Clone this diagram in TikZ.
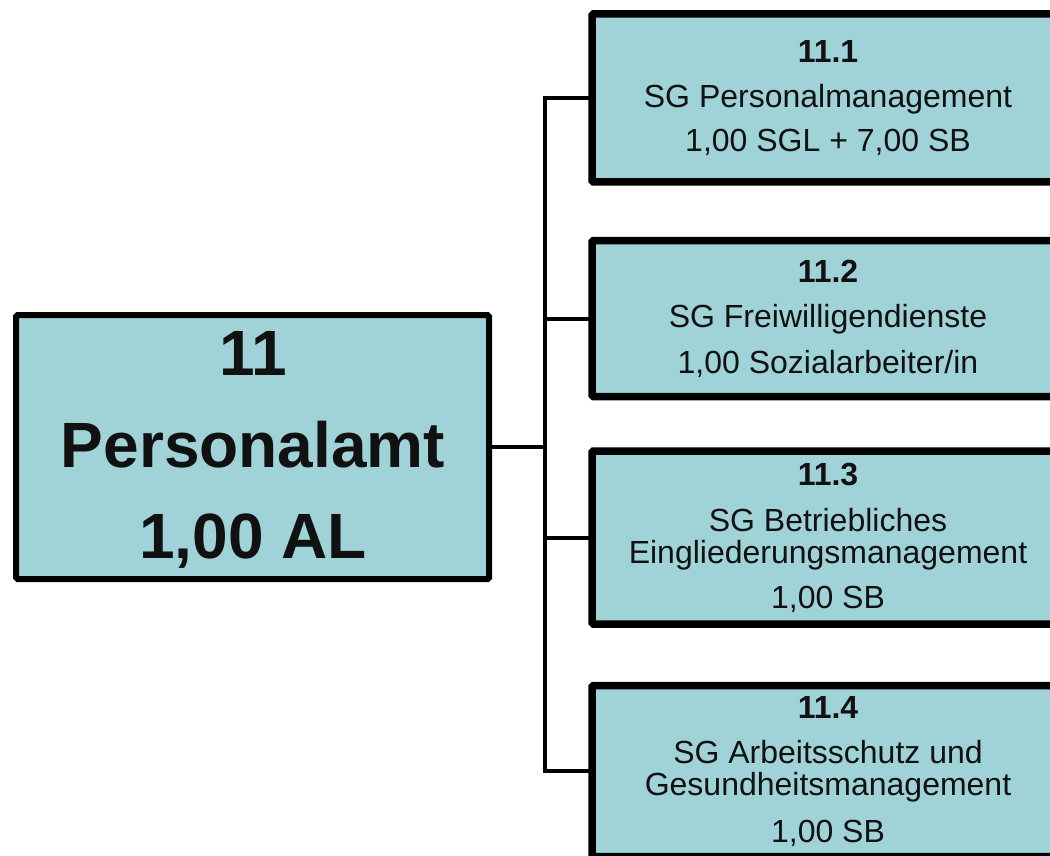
\documentclass[tikz,border=0pt]{standalone}
\usepackage{fontspec}
\setmainfont{Liberation Sans}
\definecolor{boxfill}{RGB}{160,211,216}
\definecolor{ink}{RGB}{17,17,17}
\tikzset{
  mainbox/.style={draw=black, fill=boxfill, line width=6pt, rounded corners=1.5pt, inner sep=0pt, outer sep=0pt},
  subbox/.style={draw=black, fill=boxfill, line width=7.5pt, rounded corners=1.5pt, inner sep=0pt, outer sep=0pt},
  bigtxt/.style={anchor=base, inner sep=0pt, text=ink, font=\fontsize{64}{70}\selectfont\bfseries},
  headtxt/.style={anchor=base, inner sep=0pt, text=ink, font=\fontsize{32}{36}\selectfont\bfseries},
  bodytxt/.style={anchor=base, inner sep=0pt, text=ink, font=\fontsize{32}{36}\selectfont},
  conn/.style={draw=black, line width=4pt}
}
\begin{document}
\begin{tikzpicture}[x=1pt,y=-1pt]
\useasboundingbox (0,0) rectangle (1050,856);
\clip (0,0) rectangle (1050,856);
% boxes
\node[mainbox, minimum width=473pt, minimum height=264pt] (m) at (252.5,447) {};
\node[subbox, minimum width=472pt, minimum height=168pt] (b1) at (828,98) {};
\node[subbox, minimum width=472pt, minimum height=156pt] (b2) at (828,318.5) {};
\node[subbox, minimum width=472pt, minimum height=173pt] (b3) at (828,537.5) {};
\node[subbox, minimum width=472pt, minimum height=171pt] (b4) at (828,771) {};
% connectors
\coordinate (j) at (545,447);
\draw[conn] (m.east) -- (j);
\draw[conn, line cap=rect] (b1.west -| j) -- (b4.west -| j);
\draw[conn] (b1.west -| j) -- (b1.west);
\draw[conn] (b2.west -| j) -- (b2.west);
\draw[conn] (b3.west -| j) -- (b3.west);
\draw[conn] (b4.west -| j) -- (b4.west);
% main text
\node[bigtxt] (m1) at (253,375) {11};
\node[bigtxt] (m2) at (253,467) {Personalamt};
\node[bigtxt] (m3) at (253,558) {1,00 AL};
% box 1
\node[headtxt] (t1a) at (828,63) {11.1};
\node[bodytxt] (t1b) at (828,108) {SG Personalmanagement};
\node[bodytxt] (t1c) at (828,152) {1,00 SGL + 7,00 SB};
% box 2
\node[headtxt] (t2a) at (828,282) {11.2};
\node[bodytxt] (t2b) at (828,327) {SG Freiwilligendienste};
\node[bodytxt] (t2c) at (828,373) {1,00 Sozialarbeiter/in};
% box 3
\node[headtxt] (t3a) at (828,485) {11.3};
\node[bodytxt] (t3b) at (828,531) {SG Betriebliches};
\node[bodytxt] (t3c) at (828,563) {Eingliederungsmanagement};
\node[bodytxt] (t3d) at (828,608) {1,00 SB};
% box 4
\node[headtxt] (t4a) at (828,718) {11.4};
\node[bodytxt] (t4b) at (828,763) {SG Arbeitsschutz und};
\node[bodytxt] (t4c) at (828,795) {Gesundheitsmanagement};
\node[bodytxt] (t4d) at (828,842) {1,00 SB};
\end{tikzpicture}
\end{document}
